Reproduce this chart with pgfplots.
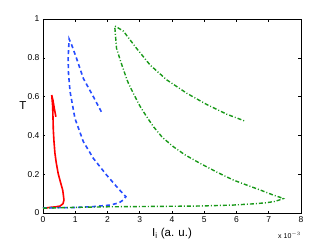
\documentclass[border=0pt]{standalone}
\usepackage{pgfplots}
\pgfplotsset{compat=1.18}
\usepackage{fontspec}
\setmainfont{Liberation Sans}
\definecolor{mred}{rgb}{1,0,0}
\definecolor{mblue}{rgb}{0.15,0.3,1}
\definecolor{mgreen}{rgb}{0.1,0.6,0.1}
\begin{document}
\begin{tikzpicture}
\path[use as bounding box] (-43pt,-34pt) rectangle (289pt,213pt);
\begin{axis}[
  at={(0pt,0pt)}, anchor=south west,
  scale only axis, width=258pt, height=194pt,
  xmin=0, xmax=8, ymin=0, ymax=1,
  xtick={0,1,...,8}, ytick={0,0.2,0.4,0.6,0.8,1},
  yticklabels={0,0.2,0.4,0.6,0.8,1},
  tick align=inside, major tick length=2.5pt,
  tick style={black, line width=0.5pt},
  axis line style={line width=0.6pt},
  tick label style={font=\fontsize{8.5}{10}\selectfont},
  /pgf/number format/assume math mode=true,
  xlabel={I$_\mathrm{i}$ (a. u.)},
  ylabel={T},
  label style={font=\fontsize{11.5}{13}\selectfont},
  ylabel style={rotate=-90, at={(rel axis cs:0,0.5)}, anchor=center, xshift=-20pt, yshift=10pt},
  xlabel style={yshift=1pt},
  clip=false,
]
\addplot[mred, line width=1.6pt] coordinates {
(0,0.024) (0.22,0.029) (0.4,0.032) (0.53,0.036) (0.62,0.048) (0.65,0.067) (0.63,0.095) (0.61,0.119) (0.54,0.16) (0.47,0.204) (0.41,0.26) (0.37,0.308) (0.34,0.37) (0.32,0.428) (0.31,0.49) (0.30,0.55) (0.27,0.608) (0.31,0.58) (0.35,0.54) (0.40,0.496)
};
\addplot[mblue, line width=1.6pt, dash pattern=on 4pt off 3pt] coordinates {
(0,0.026) (0.53,0.028) (0.94,0.028) (1.56,0.033) (2.08,0.041) (2.35,0.052) (2.49,0.067) (2.57,0.084) (2.33,0.127) (1.97,0.196) (1.56,0.282) (1.25,0.368) (0.99,0.488) (0.84,0.625) (0.79,0.72) (0.78,0.797) (0.81,0.897) (0.89,0.866) (1.04,0.797) (1.25,0.694) (1.56,0.60) (1.85,0.509)
};
\addplot[mgreen, line width=1.4pt, dash pattern=on 4pt off 2pt on 1pt off 2pt] coordinates {
(0,0.025) (1,0.029) (2,0.032) (2.8,0.033) (4.87,0.036) (5.9,0.041) (6.5,0.047) (6.93,0.053) (7.2,0.06) (7.45,0.074) (7.40,0.078) (7.1,0.095) (6.73,0.119) (6.3,0.145) (5.90,0.17) (5.4,0.21) (4.87,0.256) (4.4,0.3) (4.04,0.342) (3.7,0.39) (3.42,0.446) (3.2,0.5) (3.01,0.55) (2.8,0.617) (2.65,0.668) (2.59,0.694) (2.41,0.78) (2.28,0.849) (2.23,0.952) (2.23,0.964) (2.49,0.938) (2.90,0.849) (3.32,0.763) (3.84,0.686) (4.46,0.617) (5.07,0.560) (5.70,0.509) (6.26,0.474)
};
\node[anchor=north east, font=\fontsize{7}{8}\selectfont, inner sep=0pt] at (rel axis cs:1,0) [yshift=-19pt] {x 10$^{-3}$};
\end{axis}
\end{tikzpicture}
\end{document}
